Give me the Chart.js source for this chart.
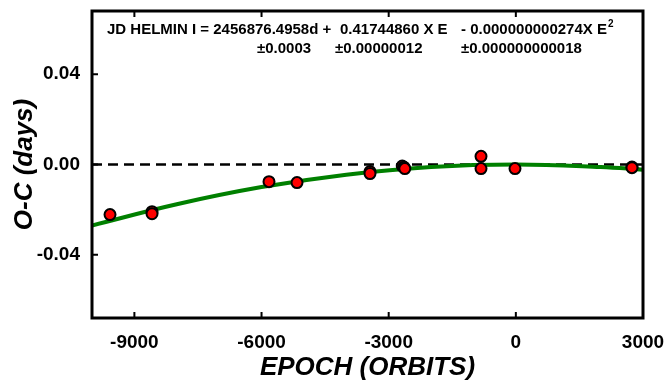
<!DOCTYPE html>
<html lang="en">

<head>
	<meta charset="UTF-8">
	<title>O-C HELMIN I</title>
	<script src="https://cdn.jsdelivr.net/npm/chart.js@4.4.1/dist/chart.umd.min.js"></script>
	<style>
		body { margin: 0; background: #fff; }
		#wrap { width: 665px; height: 389px; }
	</style>
</head>

<body>
	<div id="wrap"><canvas id="oc"></canvas></div>

	<script>
		const epochs = [-9575, -8584, -8584, -5824, -5163, -3441, -3441, -2680, -2640, -2620, -822, -822, -20, 2740, 2740];
		const ocDays = [-0.0222, -0.0209, -0.0218, -0.0076, -0.0080, -0.0031, -0.0040, -0.0007, -0.0012, -0.0018, 0.0036, -0.0018, -0.0018, -0.0011, -0.0014];

		// quadratic fit as drawn
		const fitEpochs = [-10000, -8000, -6000, -4000, -2000, 0, 2000, 3000];
		const fitDays = [-0.0270, -0.0176, -0.0100, -0.0045, -0.0011, 0.0000, -0.0011, -0.0023];

		const xTicks = [-9000, -6000, -3000, 0, 3000];
		const yTicks = [-0.04, 0.00, 0.04];

		const eqLine1 = ['JD HELMIN I = 2456876.4958d +', '0.41744860 X E', '- 0.000000000274X E'];
		const eqLine2 = ['\u00b10.0003', '\u00b10.00000012', '\u00b10.000000000018'];

		const frame = {
			id: 'frame',
			afterDraw(chart) {
				const { ctx, chartArea: a, scales } = chart;
				ctx.save();
				ctx.strokeStyle = '#000';
				ctx.lineWidth = 3;
				ctx.strokeRect(a.left, a.top, a.right - a.left, a.bottom - a.top);
				ctx.lineWidth = 2;
				ctx.beginPath();
				xTicks.forEach(v => {
					const px = scales.x.getPixelForValue(v);
					ctx.moveTo(px, a.bottom); ctx.lineTo(px, a.bottom - 6);
					ctx.moveTo(px, a.top); ctx.lineTo(px, a.top + 6);
				});
				yTicks.forEach(v => {
					const py = scales.y.getPixelForValue(v);
					ctx.moveTo(a.left, py); ctx.lineTo(a.left + 6, py);
				});
				ctx.stroke();

				// fit equation
				ctx.fillStyle = '#000';
				ctx.textBaseline = 'alphabetic';
				ctx.font = 'bold 15px "Liberation Sans", Arial, sans-serif';
				ctx.fillText(eqLine1[0], 107, 34);
				ctx.fillText(eqLine1[1], 340, 34);
				ctx.fillText(eqLine1[2], 461, 34);
				const w = ctx.measureText(eqLine1[2]).width;
				ctx.font = 'bold 10px "Liberation Sans", Arial, sans-serif';
				ctx.fillText('2', 461 + w + 1, 27);
				ctx.font = 'bold 15px "Liberation Sans", Arial, sans-serif';
				ctx.fillText(eqLine2[0], 257, 53);
				ctx.fillText(eqLine2[1], 335, 53);
				ctx.fillText(eqLine2[2], 461, 53);
				ctx.restore();
			}
		};

		const tickFont = { family: '"Liberation Sans", Arial, sans-serif', size: 19, weight: 'bold' };
		const titleFont = { family: '"Liberation Sans", Arial, sans-serif', size: 26, weight: 'bold', style: 'italic' };

		new Chart(document.getElementById('oc'), {
			type: 'scatter',
			data: {
				datasets: [{
					label: 'O-C',
					data: epochs.map((e, i) => ({ x: e, y: ocDays[i] })),
					backgroundColor: '#ff0000',
					borderColor: '#000',
					borderWidth: 2,
					pointRadius: 5.5
				}, {
					label: 'fit',
					data: fitEpochs.map((e, i) => ({ x: e, y: fitDays[i] })),
					showLine: true,
					borderColor: '#008000',
					borderWidth: 4,
					pointRadius: 0,
					tension: 0.4
				}, {
					label: 'zero',
					data: [{ x: -10000, y: 0 }, { x: 3000, y: 0 }],
					showLine: true,
					borderColor: '#000',
					borderWidth: 2.5,
					borderDash: [10, 6],
					pointRadius: 0
				}]
			},
			options: {
				responsive: true,
				maintainAspectRatio: false,
				animation: false,
				layout: { padding: { top: 11, right: 22, left: 0, bottom: 0 } },
				plugins: { legend: { display: false }, tooltip: { enabled: false } },
				scales: {
					x: {
						type: 'linear',
						min: -10000,
						max: 3000,
						grid: { display: false, drawTicks: false },
						border: { display: false },
						afterBuildTicks: s => { s.ticks = xTicks.map(v => ({ value: v })); },
						afterFit: s => { s.height = 71; s.paddingLeft = 0; s.paddingRight = 0; },
						ticks: { color: '#000', font: tickFont, padding: 13, maxRotation: 0, callback: v => String(v) },
						title: { display: true, text: 'EPOCH (ORBITS)', color: '#000', font: titleFont, padding: { top: 0, bottom: 6 } }
					},
					y: {
						min: -0.068,
						max: 0.068,
						grid: { display: false, drawTicks: false },
						border: { display: false },
						afterBuildTicks: s => { s.ticks = yTicks.map(v => ({ value: v })); },
						afterFit: s => { s.width = 92; s.paddingTop = 0; s.paddingBottom = 0; },
						ticks: { color: '#000', font: tickFont, padding: 12, callback: v => v.toFixed(2) },
						title: { display: true, text: 'O-C (days)', color: '#000', font: titleFont, padding: { top: 9, bottom: 0 } }
					}
				}
			},
			plugins: [frame]
		});
	</script>

</body>

</html>
